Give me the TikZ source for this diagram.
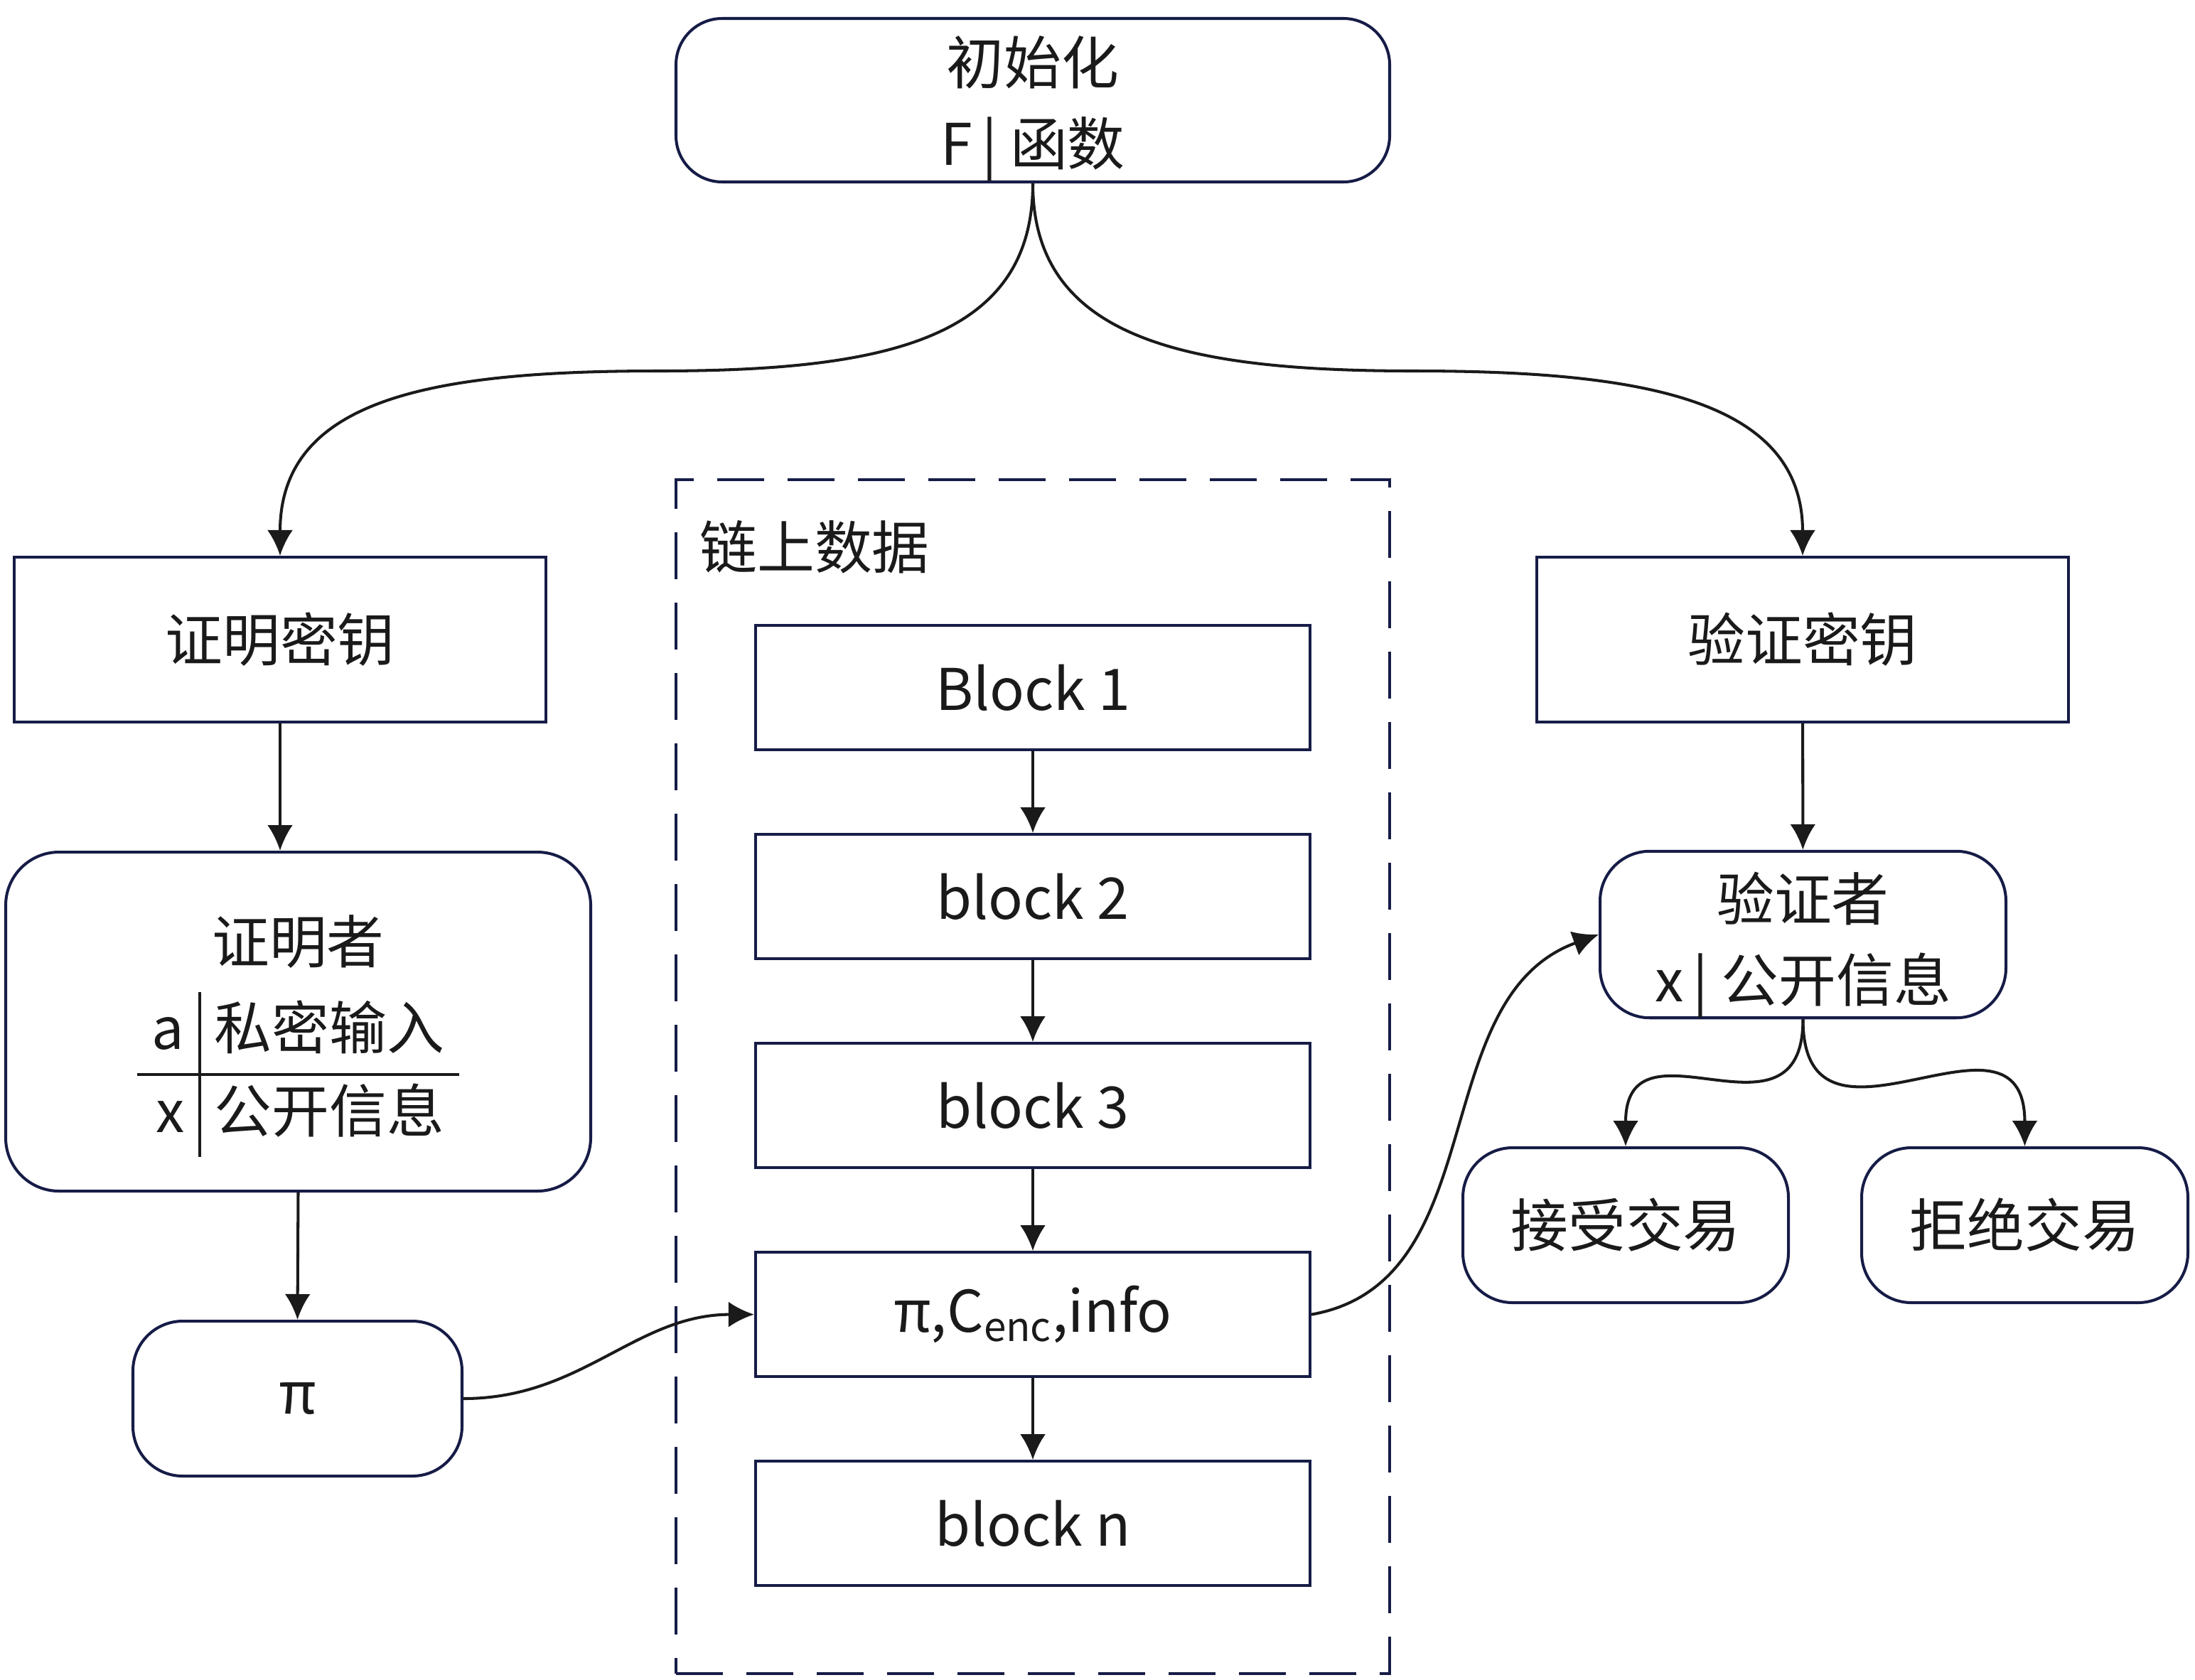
\documentclass[tikz,border=0pt]{standalone}
\usepackage{fontspec}
\setmainfont{Noto Sans CJK SC}
\usetikzlibrary{positioning,arrows.meta}
\definecolor{boxline}{RGB}{22,28,70}
\definecolor{ink}{RGB}{26,26,26}
\setlength{\arrayrulewidth}{1.1pt}
\begin{document}
\begin{tikzpicture}[
every node/.style={font=\fontsize{23}{32.4}\selectfont, text=ink},
keybox/.style={draw=boxline, line width=1.15pt, minimum width=7.48cm, minimum height=2.32cm},
roundbox/.style={draw=boxline, line width=1.15pt, rounded corners=0.7cm, align=center},
blockbox/.style={draw=boxline, line width=1.15pt, minimum width=7.8cm, minimum height=1.75cm},
chainbox/.style={draw=boxline, line width=1.15pt, dash pattern=on 0.66cm off 0.33cm},
flow/.style={draw=ink, line width=1.15pt, -{Latex[length=3.6mm,width=3.6mm]}},
node distance=1.15cm]
\useasboundingbox (0,0) rectangle (30.88,-23.63);
\node[roundbox, rounded corners=0.65cm, inner ysep=0pt, minimum width=10.04cm, minimum height=2.30cm] (init) at (14.53,-1.41) {\rule{0pt}{0.92cm}初始化\\F\,| 函数};
\node[keybox] (pk) at (3.94,-9.00) {证明密钥};
\node[keybox] (vk) at (25.36,-9.00) {验证密钥};
\node[roundbox, rounded corners=0.75cm, minimum width=8.23cm, minimum height=4.77cm] (prover) at (4.195,-14.375)
    {\rule{0pt}{1.08cm}证明者\\[2pt]\begin{tabular}[t]{r|l}a & 私密输入\\\hline x & 公开信息\end{tabular}};
\node[roundbox, minimum width=4.63cm, minimum height=2.18cm] (pi) at (4.185,-19.68) {π};
\node[chainbox, minimum width=10.04cm, minimum height=16.80cm] (chain) at (14.53,-15.15) {};
\node[anchor=west] (chaintitle) at (9.72,-7.70) {链上数据};
\node[blockbox] (b1) at (14.53,-9.675) {Block 1};
\node[blockbox, below=of b1] (b2) {block 2};
\node[blockbox, below=of b2] (b3) {block 3};
\node[blockbox, below=of b3] (bpi) {π,C\textsubscript{enc},info};
\node[blockbox, below=of bpi] (bn) {block n};
\node[roundbox, inner ysep=0pt, minimum width=5.71cm, minimum height=2.32cm] (ver) at (25.365,-13.15) {\rule{0pt}{0.98cm}验证者\\x\,| 公开信息};
\node[roundbox, minimum width=4.58cm, minimum height=2.18cm] (acc) at (22.87,-17.24) {接受交易};
\node[roundbox, minimum width=4.59cm, minimum height=2.18cm] (rej) at (28.485,-17.24) {拒绝交易};
\coordinate (lbend) at (9.25,-5.22);
\coordinate (rbend) at (19.90,-5.22);
\draw[flow] (init.south) .. controls +(0,-2.2) and +(3.2,0) .. (lbend) .. controls +(-3.2,0) and +(0,2.2) .. (pk.north);
\draw[flow] (init.south) .. controls +(0,-2.2) and +(-3.2,0) .. (rbend) .. controls +(3.2,0) and +(0,2.2) .. (vk.north);
\draw[flow] (pk.south) -- (pk.south |- prover.north);
\draw[flow] (prover.south) -- (pi.north);
\draw[flow] (pi.east) to[out=0, in=180] (bpi.west);
\draw[flow] (b1) -- (b2);
\draw[flow] (b2) -- (b3);
\draw[flow] (b3) -- (bpi);
\draw[flow] (bpi) -- (bn);
\draw[flow] (bpi.east) to[out=10, in=200] (ver.west);
\draw[flow] (vk) -- (ver);
\draw[flow] (ver.south) to[out=-90, in=90, looseness=1.6] (acc.north);
\draw[flow] (ver.south) to[out=-90, in=90, looseness=1.6] (rej.north);
\end{tikzpicture}
\end{document}
